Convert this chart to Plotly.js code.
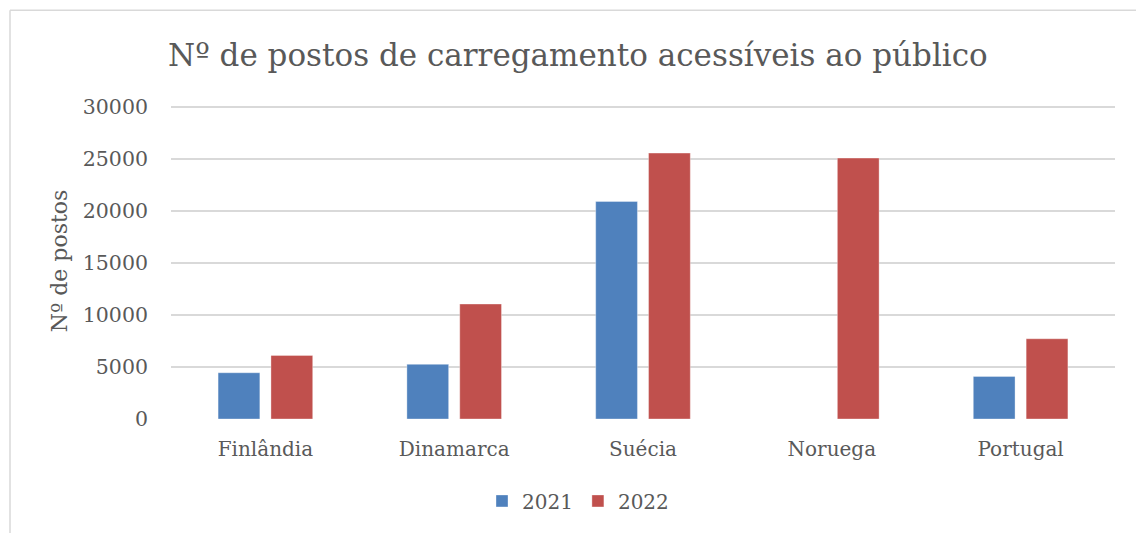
<!DOCTYPE html>
<html>
<head>
<meta charset="utf-8">
<script src="https://cdn.plot.ly/plotly-3.0.1.min.js"></script>
<style>
html,body{margin:0;padding:0;background:#fff;}
#chart{width:1136px;height:533px;}
</style>
</head>
<body>
<div id="chart"></div>
<script>
const categories = ["Finlândia", "Dinamarca", "Suécia", "Noruega", "Portugal"];
const series2021 = [4450, 5260, 20930, null, 4100];
const series2022 = [6120, 11060, 25580, 25100, 7720];
const seriesNames = ["2021", "2022"];
const yTicks = [0, 5000, 10000, 15000, 20000, 25000, 30000];

const FONT = "DejaVu Serif";
const TXT = "#595959";

const traces = [
  {type: "bar", name: seriesNames[0], x: categories, y: series2021,
   marker: {color: "#4F81BD", line: {color: "rgba(255,255,255,0.35)", width: 1}}},
  {type: "bar", name: seriesNames[1], x: categories, y: series2022,
   marker: {color: "#C0504D", line: {color: "rgba(255,255,255,0.35)", width: 1}}}
];

const T = 102.8, B = 114, PH = 533 - T - B;
const py = p => (533 - B - p) / PH;

const layout = {
  width: 1136, height: 533,
  margin: {l: 171, r: 21, t: T, b: B, pad: 0},
  paper_bgcolor: "#fff", plot_bgcolor: "#fff",
  font: {family: FONT, color: TXT, size: 20},
  title: {text: "Nº de postos de carregamento acessíveis ao público",
          font: {family: FONT, size: 31, color: TXT},
          xref: "container", x: 168/1136, xanchor: "left",
          yref: "container", y: 1 - 55/533, yanchor: "middle"},
  barmode: "group", bargap: 0.44, bargroupgap: 0.21,
  showlegend: true,
  legend: {orientation: "h", x: (578-171)/944, xanchor: "center",
           y: py(501), yanchor: "middle",
           font: {family: FONT, size: 20, color: TXT},
           itemwidth: 30, traceorder: "normal"},
  xaxis: {type: "category", showgrid: false, zeroline: false, showline: false,
          ticks: "", ticklabelstandoff: 16,
          tickfont: {family: FONT, size: 20, color: TXT}},
  yaxis: {range: [0, 30400], tickvals: yTicks, ticktext: yTicks.map(String),
          showgrid: true, gridcolor: "#d9d9d9", gridwidth: 1.5,
          zeroline: false, showline: false, ticks: "",
          ticklabelstandoff: 22,
          tickfont: {family: FONT, size: 20.5, color: TXT},
          title: {text: "Nº de postos", font: {family: FONT, size: 22, color: TXT}, standoff: 9}},
  shapes: [
    {type: "line", xref: "paper", yref: "paper",
     x0: (10-171)/944, x1: (1140-171)/944, y0: py(10), y1: py(10),
     line: {color: "#d9d9d9", width: 1.5}},
    {type: "line", xref: "paper", yref: "paper",
     x0: (10-171)/944, x1: (10-171)/944, y0: py(10), y1: py(540),
     line: {color: "#d9d9d9", width: 1.5}}
  ]
};

Plotly.newPlot("chart", traces, layout, {displayModeBar: false, staticPlot: true});
</script>
</body>
</html>
